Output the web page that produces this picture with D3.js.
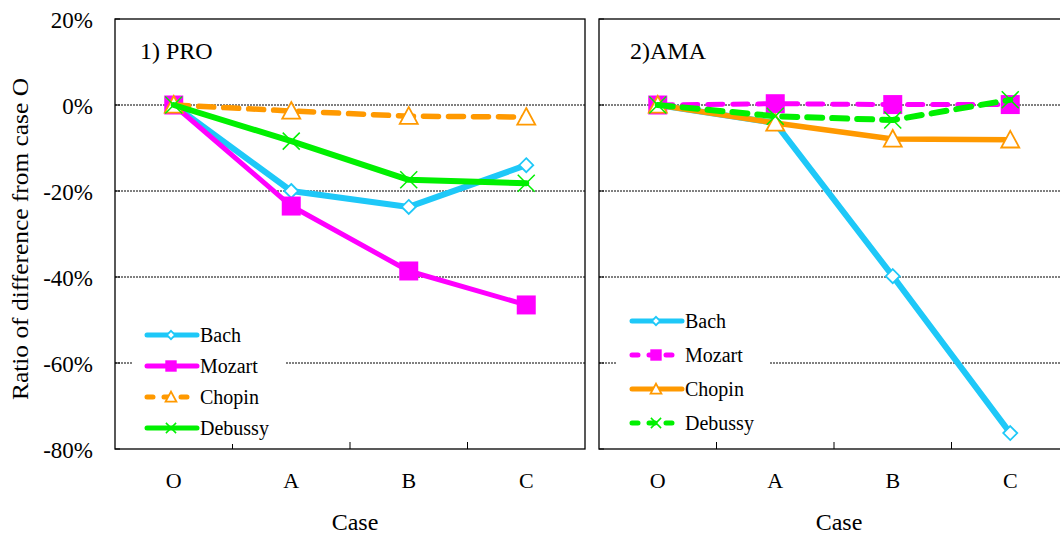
<!DOCTYPE html>
<html>
<head>
<meta charset="utf-8">
<script src="https://cdn.jsdelivr.net/npm/d3@7"></script>
<style>
  body { margin: 0; background: #fff; }
  svg text { font-family: "Times New Roman", Times, "Liberation Serif", "DejaVu Serif", serif; }
</style>
</head>
<body>
<svg id="chart" width="1060" height="535"></svg>
<script>
// --- données ---
const cases = ["O", "A", "B", "C"];
const yTicks = [0.2, 0, -0.2, -0.4, -0.6, -0.8];

// 1) PRO
const proBach    = [0, -0.200, -0.237, -0.140];
const proMozart  = [0, -0.235, -0.386, -0.465];
const proChopin  = [0, -0.014, -0.026, -0.028];
const proDebussy = [0, -0.084, -0.174, -0.182];

// 2) AMA
const amaBach    = [0, -0.042, -0.398, -0.763];
const amaMozart  = [0, 0.003, 0.001, 0.001];
const amaChopin  = [0, -0.042, -0.079, -0.081];
const amaDebussy = [0, -0.026, -0.035, 0.012];

const colors = { Bach: "#1ec8f8", Mozart: "#ff00ff", Chopin: "#ff9900", Debussy: "#00f000" };
const widths = { Bach: 6, Mozart: 5, Chopin: 5.5, Debussy: 6 };

const panels = [
  { title: "1) PRO", x0: 115, titleX: 140, series: [
      { name: "Bach", values: proBach, dash: false },
      { name: "Mozart", values: proMozart, dash: false },
      { name: "Chopin", values: proChopin, dash: true },
      { name: "Debussy", values: proDebussy, dash: false }],
    legend: { x: 147, y: 335, step: 31, box: [133, 316, 152, 128] } },
  { title: "2)AMA", x0: 599, titleX: 630, series: [
      { name: "Bach", values: amaBach, dash: false },
      { name: "Mozart", values: amaMozart, dash: true },
      { name: "Chopin", values: amaChopin, dash: false },
      { name: "Debussy", values: amaDebussy, dash: true }],
    legend: { x: 632, y: 321, step: 34, box: [617, 302, 153, 138] } }
];

const svg = d3.select("#chart");
const plotTop = 19, plotBottom = 449, pw = 470;
const y = d3.scaleLinear().domain([-0.8, 0.2]).range([plotBottom, plotTop]);

// titre axe Y
svg.append("text")
  .attr("transform", `translate(28,239) rotate(-90)`)
  .attr("text-anchor", "middle")
  .attr("font-size", 23)
  .attr("textLength", 322)
  .attr("lengthAdjust", "spacingAndGlyphs")
  .text("Ratio of difference from case O");

// étiquettes Y (à gauche du panneau 1)
const yAxis = d3.axisLeft(y).tickValues(yTicks).tickSize(0).tickPadding(0)
  .tickFormat(d => Math.round(d * 100) + "%");
const ya = svg.append("g").attr("transform", "translate(93,0)").call(yAxis);
ya.select(".domain").remove();
ya.selectAll("text").attr("font-size", 23).attr("fill", "#000").attr("dy", "0.36em");

function markerPath(name, s) {
  if (name === "Bach") return `M0,${-s}L${s},0L0,${s}L${-s},0Z`;
  if (name === "Mozart") return `M${-s},${-s}H${s}V${s}H${-s}Z`;
  if (name === "Chopin") return `M0,${-s}L${s},${s * 0.85}H${-s}Z`;
  return `M${-s},${-s}L${s},${s}M${s},${-s}L${-s},${s}`;
}

function drawMarker(g, name, cx, cy, scale) {
  const c = colors[name];
  const sizes = { Bach: 7, Mozart: 9.5, Chopin: 9, Debussy: 8.5 };
  const s = sizes[name] * scale;
  const p = g.append("path")
    .attr("transform", `translate(${cx},${cy})`)
    .attr("d", markerPath(name, s));
  if (name === "Mozart") p.attr("fill", c).attr("stroke", "none");
  else if (name === "Debussy") p.attr("fill", "none").attr("stroke", c).attr("stroke-width", 1.5);
  else p.attr("fill", "#fff").attr("stroke", c).attr("stroke-width", 1.8);
}

panels.forEach(panel => {
  const g = svg.append("g");
  const x = d3.scaleBand().domain(cases).range([panel.x0, panel.x0 + pw]);
  const cx = d => x(d) + x.bandwidth() / 2;

  // grille pointillée
  g.selectAll("line.grid").data([0, -0.2, -0.4, -0.6]).enter().append("line")
    .attr("x1", panel.x0).attr("x2", panel.x0 + pw)
    .attr("y1", d => y(d)).attr("y2", d => y(d))
    .attr("stroke", "#000").attr("stroke-width", 1).attr("stroke-dasharray", "2,1");

  // graduations Y intérieures
  g.selectAll("line.ytick").data(yTicks).enter().append("line")
    .attr("x1", panel.x0).attr("x2", panel.x0 + 5)
    .attr("y1", d => y(d)).attr("y2", d => y(d))
    .attr("stroke", "#000");

  // graduations X (entre catégories)
  g.selectAll("line.xtick").data(cases.slice(1)).enter().append("line")
    .attr("x1", d => x(d)).attr("x2", d => x(d))
    .attr("y1", plotBottom).attr("y2", plotBottom - 7)
    .attr("stroke", "#000");

  // étiquettes X
  const xAxis = d3.axisBottom(x).tickSize(0).tickPadding(0);
  const xa = g.append("g").attr("transform", `translate(0,${plotBottom + 39})`).call(xAxis);
  xa.select(".domain").remove();
  xa.selectAll("text").attr("font-size", 22).attr("fill", "#000").attr("dy", 0);

  g.append("text")
    .attr("x", panel.x0 + pw / 2 + 5).attr("y", 530)
    .attr("text-anchor", "middle").attr("font-size", 24)
    .text("Case");

  // cadre
  g.append("rect")
    .attr("x", panel.x0).attr("y", plotTop).attr("width", pw).attr("height", plotBottom - plotTop)
    .attr("fill", "none").attr("stroke", "#000").attr("stroke-width", 1.3);

  g.append("text")
    .attr("x", panel.titleX).attr("y", 59)
    .attr("font-size", 24).text(panel.title);

  // séries
  const line = d3.line().x((d, i) => cx(cases[i])).y(d => y(d));
  panel.series.forEach(s => {
    g.append("path")
      .attr("d", line(s.values))
      .attr("fill", "none")
      .attr("stroke", colors[s.name])
      .attr("stroke-width", widths[s.name])
      .attr("stroke-linejoin", "round")
      .attr("stroke-linecap", "round")
      .attr("stroke-dasharray", s.dash ? "15,10" : null);
    s.values.forEach((v, i) => drawMarker(g, s.name, cx(cases[i]), y(v), 1));
  });

  // légende
  const L = panel.legend;
  g.append("rect")
    .attr("x", L.box[0]).attr("y", L.box[1]).attr("width", L.box[2]).attr("height", L.box[3])
    .attr("fill", "#fff");
  panel.series.forEach((s, i) => {
    const ly = L.y + i * L.step;
    g.append("line")
      .attr("x1", L.x).attr("x2", L.x + 50).attr("y1", ly).attr("y2", ly)
      .attr("stroke", colors[s.name]).attr("stroke-width", 5)
      .attr("stroke-linecap", "round")
      .attr("stroke-dasharray", s.dash ? "6,11" : null);
    drawMarker(g, s.name, L.x + 24, ly, 0.6);
    g.append("text")
      .attr("x", L.x + 53).attr("y", ly).attr("dy", "0.35em")
      .attr("font-size", 20).text(s.name);
  });
});
</script>
</body>
</html>
